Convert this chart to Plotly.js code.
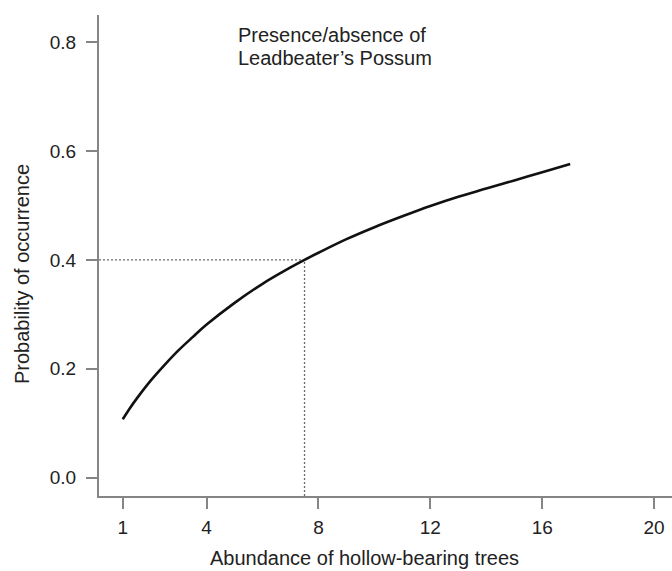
<!DOCTYPE html>
<html>
<head>
<meta charset="utf-8">
<script src="https://cdn.plot.ly/plotly-3.0.1.min.js"></script>
<style>html,body{margin:0;padding:0;background:#fff;}#chart{width:672px;height:571px;}</style>
</head>
<body>
<div id="chart"></div>
<script>
// Fitted curve
const abundance = [1, 1.25, 1.5, 2, 2.5, 3, 3.5, 4, 5, 6, 7, 7.5, 8, 9, 10, 11, 12, 13, 14, 15, 16, 17];
const probability = [0.107, 0.127, 0.145, 0.178, 0.207, 0.234, 0.258, 0.281, 0.321, 0.356, 0.386, 0.400, 0.413, 0.438, 0.460, 0.480, 0.499, 0.516, 0.531, 0.546, 0.561, 0.576];
// Reference point marked by dotted lines
const refX = 7.5;
const refY = 0.4;
// Ticks
const xTicks = [1, 4, 8, 12, 16, 20];
const yTicks = [0.0, 0.2, 0.4, 0.6, 0.8];
const xTickText = ['1', '4', '8', '12', '16', '20'];
const yTickText = ['0.0', '0.2', '0.4', '0.6', '0.8'];
// Texts
const xTitle = 'Abundance of hollow-bearing trees';
const yTitle = 'Probability of occurrence';
const panelLine1 = 'Presence/absence of';
const panelLine2 = 'Leadbeater’s Possum';

const X_RANGE = [0.152, 20.64];
const Y_RANGE = [-0.034, 0.85];
const FONT = 'Liberation Sans, Arial, Helvetica, sans-serif';
const TXT = '#222';
const AX = '#858585';

const traces = [
  {x: [X_RANGE[0], refX], y: [refY, refY], mode: 'lines', line: {color: '#6a6a6a', width: 1.3, dash: '2px,2px'}, hoverinfo: 'skip'},
  {x: [refX, refX], y: [Y_RANGE[0], refY], mode: 'lines', line: {color: '#6a6a6a', width: 1.3, dash: '2px,2px'}, hoverinfo: 'skip'},
  {x: abundance, y: probability, mode: 'lines', line: {color: '#111', width: 2.6, shape: 'spline', smoothing: 1}, hoverinfo: 'skip'}
];

const layout = {
  width: 672, height: 571,
  margin: {l: 99, r: 0, t: 15, b: 75, pad: 0},
  paper_bgcolor: '#fff', plot_bgcolor: '#fff',
  showlegend: false,
  font: {family: FONT, color: TXT, size: 19},
  xaxis: {
    range: X_RANGE, tickvals: xTicks, ticktext: xTickText,
    showgrid: false, zeroline: false, showline: true, linecolor: AX, linewidth: 2,
    ticks: 'outside', ticklen: 11, tickwidth: 2, tickcolor: AX,
    tickfont: {family: FONT, size: 19, color: TXT}, ticklabelstandoff: 2
  },
  yaxis: {
    range: Y_RANGE, tickvals: yTicks, ticktext: yTickText,
    showgrid: false, zeroline: false, showline: true, linecolor: AX, linewidth: 2,
    ticks: 'outside', ticklen: 11, tickwidth: 2, tickcolor: AX,
    tickfont: {family: FONT, size: 19, color: TXT}, ticklabelstandoff: 6
  },
  annotations: [
    {text: xTitle, xref: 'paper', yref: 'paper', x: (364 - 99) / 573, y: -(558 - 496) / 481, xanchor: 'center', yanchor: 'middle', showarrow: false, font: {family: FONT, size: 20, color: TXT}},
    {text: yTitle, xref: 'paper', yref: 'paper', x: -(99 - 22) / 573, y: (496 - 274) / 481, xanchor: 'center', yanchor: 'middle', textangle: -90, showarrow: false, font: {family: FONT, size: 20, color: TXT}},
    {text: panelLine1, xref: 'paper', yref: 'paper', x: (236 - 99) / 573, y: (496 - 35) / 481, xanchor: 'left', yanchor: 'middle', align: 'left', showarrow: false, font: {family: FONT, size: 20, color: TXT}},
    {text: panelLine2, xref: 'paper', yref: 'paper', x: (236 - 99) / 573, y: (496 - 58) / 481, xanchor: 'left', yanchor: 'middle', align: 'left', showarrow: false, font: {family: FONT, size: 20, color: TXT}}
  ]
};

Plotly.newPlot('chart', traces, layout, {displayModeBar: false, staticPlot: true});
</script>
</body>
</html>
